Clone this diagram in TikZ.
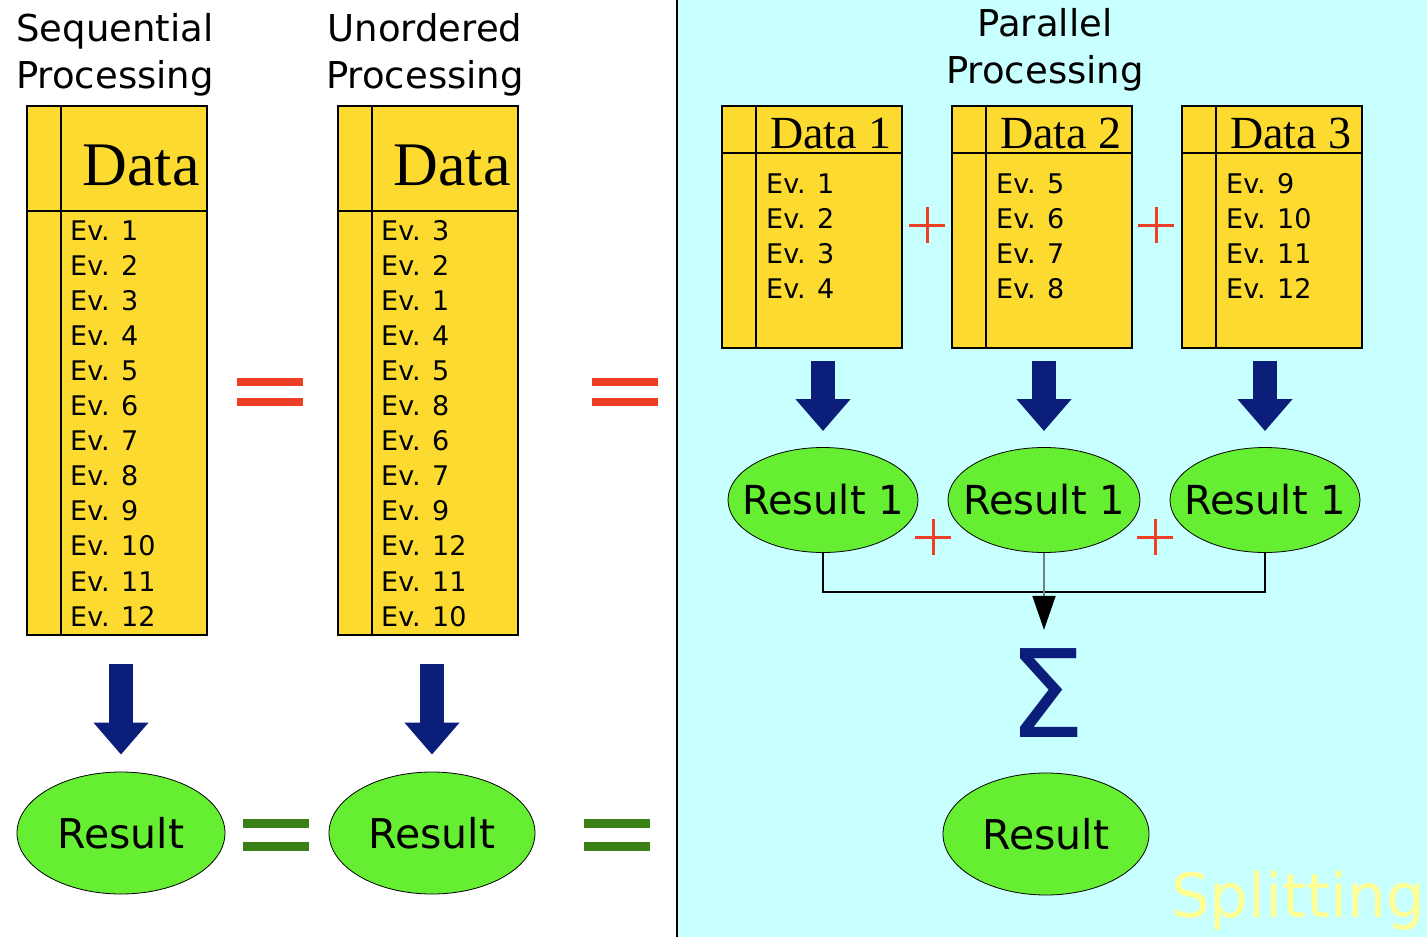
\documentclass[tikz,border=0pt]{standalone}
\usepackage{fontspec}
\setmainfont{DejaVu Sans}
\newfontfamily\timesfont{Liberation Serif}
\usetikzlibrary{shapes.geometric,arrows.meta}

\definecolor{boxyellow}{RGB}{252,218,48}
\definecolor{resgreen}{RGB}{102,238,51}
\definecolor{parcyan}{RGB}{200,255,255}
\definecolor{arrowblue}{RGB}{10,30,122}
\definecolor{eqred}{RGB}{238,62,36}
\definecolor{eqgreen}{RGB}{58,128,22}
\definecolor{splityellow}{RGB}{255,255,150}
\definecolor{joingray}{RGB}{110,130,130}

\tikzset{
	databox/.style={draw, line width=1.3pt, fill=boxyellow, minimum width=180pt, inner sep=0pt,
		path picture={
			\draw[line width=1.3pt] ([xshift=34pt]path picture bounding box.north west) -- ([xshift=34pt]path picture bounding box.south west);
			\draw[line width=1.3pt] ([yshift=-#1]path picture bounding box.north west) -- ([yshift=-#1]path picture bounding box.north east);
		}},
	datatitle/.style={anchor=base, inner sep=0pt, font=\timesfont\fontsize{#1}{#1}\selectfont},
	evtext/.style={anchor=base west, inner sep=0pt, font=\fontsize{27}{32}\selectfont},
	header/.style={align=center, inner sep=0pt, font=\fontsize{37}{47}\selectfont},
	resnode/.style={ellipse, draw, line width=0.8pt, fill=resgreen, inner sep=0pt},
	reslabel/.style={inner sep=0pt, font=\fontsize{#1}{#1}\selectfont},
	bigarrow/.style={draw=arrowblue, line width=24pt, -{Triangle[width=53pt,length=32pt]}},
	joinline/.style={line width=1.5pt},
	sumarrow/.style={draw=joingray, line width=1.8pt, -{Triangle[width=23pt,length=34pt,color=black]}},
	plussign/.pic={\draw[eqred, line width=3pt] (-18,0) -- (18,0) (0,-18) -- (0,18);},
	eqsign/.pic={\draw (-33,-#1) -- (33,-#1) (-33,#1) -- (33,#1);}
}

\begin{document}
\begin{tikzpicture}[x=1pt, y=-1pt]
	\useasboundingbox (0,0) rectangle (1427,937);
	\fill[white] (0,0) rectangle (677,937);
	\fill[parcyan] (677,0) rectangle (1427,937);
	\draw[line width=1.5pt] (677,0) -- (677,937);

	% sequential
	\node[header] (seqhead) at (115,55) {Sequential\\Processing};
	\node[databox=105pt, minimum height=529pt] (seqbox) at (117,370.5) {};
	\node[datatitle=62] (seqtitle) at (141,185) {Data};
	\foreach \ev [count=\i from 0] in {1,...,12}
		\node[evtext] (seqev\ev) at (70,240+35.1*\i) {Ev. \ev};
	\node[resnode, minimum width=208pt, minimum height=122pt,
		label={[reslabel=41]center:Result}] (seqres) at (121,833) {};
	\draw[bigarrow, shorten <=28pt, shorten >=17pt] (seqbox.south -| seqres) -- (seqres.north);

	% unordered
	\node[header] (unohead) at (425,55) {Unordered\\Processing};
	\node[databox=105pt, minimum height=529pt] (unobox) at (428,370.5) {};
	\node[datatitle=62] (unotitle) at (452,185) {Data};
	\foreach \ev [count=\i from 0] in {3,2,1,4,5,8,6,7,9,12,11,10}
		\node[evtext] (unoev\i) at (381,240+35.1*\i) {Ev. \ev};
	\node[resnode, minimum width=206pt, minimum height=122pt,
		label={[reslabel=41]center:Result}] (unores) at (432,833) {};
	\draw[bigarrow, shorten <=28pt, shorten >=17pt] (unobox.south -| unores) -- (unores.north);

	% equal signs
	\pic[eqred, line width=8pt] at (270,392) {eqsign=10.25};
	\pic[eqred, line width=8pt] at (625,392) {eqsign=10.25};
	\pic[eqgreen, line width=9pt] at (276,834.5) {eqsign=11.5};
	\pic[eqgreen, line width=9pt] at (617,834.5) {eqsign=11.5};

	% parallel
	\node[header] (parhead) at (1045,50) {Parallel\\Processing};
	\node[databox=47pt, minimum height=242pt] (pbox1) at (812,227) {};
	\node[databox=47pt, minimum height=242pt] (pbox2) at (1042,227) {};
	\node[databox=47pt, minimum height=242pt] (pbox3) at (1272,227) {};
	\node[datatitle=46] (ptitle1) at (831,148) {Data 1};
	\node[datatitle=46] (ptitle2) at (1061,148) {Data 2};
	\node[datatitle=46] (ptitle3) at (1291,148) {Data 3};
	\foreach \ev [count=\i from 0] in {1,...,4}
		\node[evtext] (p1ev\ev) at (766,193+35*\i) {Ev. \ev};
	\foreach \ev [count=\i from 0] in {5,...,8}
		\node[evtext] (p2ev\ev) at (996,193+35*\i) {Ev. \ev};
	\foreach \ev [count=\i from 0] in {9,...,12}
		\node[evtext] (p3ev\ev) at (1226,193+35*\i) {Ev. \ev};
	\pic at (927,225) {plussign};
	\pic at (1156,225) {plussign};

	\node[resnode, minimum width=190pt, minimum height=105pt,
		label={[reslabel=40]center:Result 1}] (pres1) at (823,500) {};
	\node[resnode, minimum width=192pt, minimum height=105pt,
		label={[reslabel=40]center:Result 1}] (pres2) at (1044,500) {};
	\node[resnode, minimum width=190pt, minimum height=105pt,
		label={[reslabel=40]center:Result 1}] (pres3) at (1265,500) {};
	\draw[bigarrow, shorten <=12pt, shorten >=16pt] (pbox1.south -| pres1) -- (pres1.north);
	\draw[bigarrow, shorten <=12pt, shorten >=16pt] (pbox2.south -| pres2) -- (pres2.north);
	\draw[bigarrow, shorten <=12pt, shorten >=16pt] (pbox3.south -| pres3) -- (pres3.north);
	\pic at (933,537) {plussign};
	\pic at (1155,537) {plussign};

	\node[anchor=base, inner sep=0pt, font=\fontsize{122}{122}\selectfont, text=arrowblue] (sigma) at (1047,737) {Σ};
	\coordinate (join) at (1045,592);
	\draw[joinline] (pres1.south) |- (join) -| (pres3.south);
	\draw[sumarrow, shorten >=18pt] (pres2.south) -- (pres2.south |- sigma.north);

	\node[resnode, minimum width=206pt, minimum height=122pt,
		label={[reslabel=41]center:Result}] (sumres) at (1046,834) {};
	\node[anchor=base west, inner sep=0pt, font=\fontsize{61}{61}\selectfont, text=splityellow] (splitlbl) at (1171,917) {Splitting};
\end{tikzpicture}
\end{document}
